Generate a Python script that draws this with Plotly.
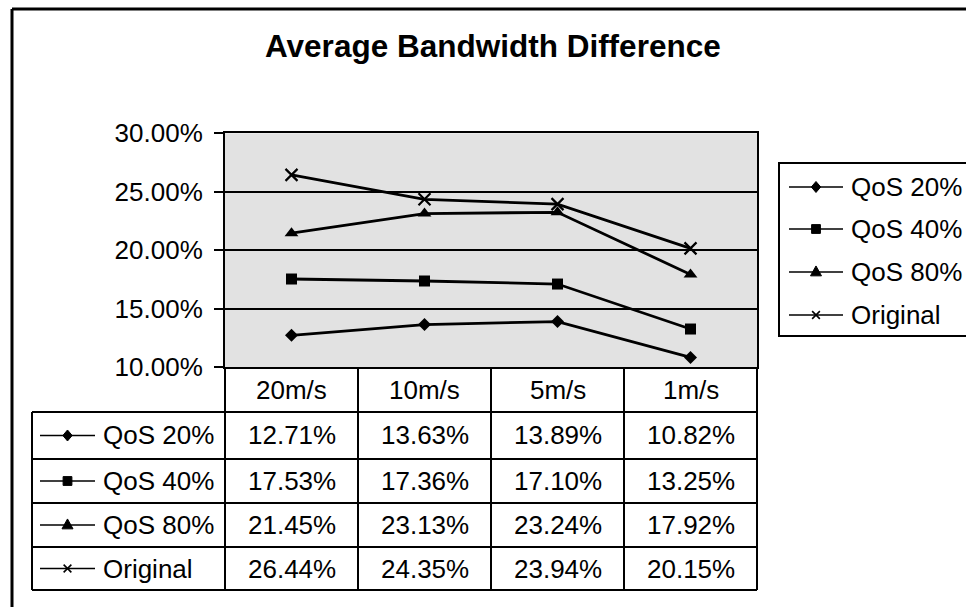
import plotly.graph_objects as go

# ---------------- data ----------------
categories = ["20m/s", "10m/s", "5m/s", "1m/s"]
series_names = ["QoS 20%", "QoS 40%", "QoS 80%", "Original"]
qos20 = [12.71, 13.63, 13.89, 10.82]
qos40 = [17.53, 17.36, 17.10, 13.25]
qos80 = [21.45, 23.13, 23.24, 17.92]
original = [26.44, 24.35, 23.94, 20.15]
y_ticks = [10, 15, 20, 25, 30]

series_values = [qos20, qos40, qos80, original]
symbols = ["diamond", "square", "triangle-up", "x-thin"]
msizes = [10, 11, 12, 12]

W, H = 966, 607
OX, OY = 0, 0          # page offset of the figure (body margin removed)
FONT = "Liberation Sans, Arial, sans-serif"
TXT = 26

# plot area in page pixels
PX0, PX1 = 225, 757
PY_TOP, PY_BOT = 133.3, 367

def fx(x):
    return (x - OX) / W

def fy(y):
    return 1 - (y - OY) / H

fig = go.Figure()
for name, vals, sym, ms in zip(series_names, series_values, symbols, msizes):
    fig.add_trace(go.Scatter(
        x=categories, y=vals, mode="lines+markers", name=name,
        line=dict(color="black", width=2.8),
        marker=dict(symbol=sym, size=ms, color="black",
                    line=dict(color="black", width=2.2 if sym == "x-thin" else 0)),
        showlegend=False,
    ))

shapes = []
annotations = []

def hline(x0, x1, y, w=2):
    shapes.append(dict(type="line", xref="paper", yref="paper",
                       x0=fx(x0), x1=fx(x1), y0=fy(y), y1=fy(y),
                       line=dict(color="black", width=w)))

def vline(x, y0, y1, w=2):
    shapes.append(dict(type="line", xref="paper", yref="paper",
                       x0=fx(x), x1=fx(x), y0=fy(y0), y1=fy(y1),
                       line=dict(color="black", width=w)))

def poly(pts):
    d = "M " + " L ".join(f"{fx(a):.5f},{fy(b):.5f}" for a, b in pts) + " Z"
    shapes.append(dict(type="path", xref="paper", yref="paper", path=d,
                       fillcolor="black", line=dict(color="black", width=1)))

def key(sym, x0, x1, cy, s=5):
    hline(x0, x1, cy, 1.6)
    cx = (x0 + x1) / 2
    if sym == "diamond":
        poly([(cx, cy - s), (cx + s * 0.85, cy), (cx, cy + s), (cx - s * 0.85, cy)])
    elif sym == "square":
        poly([(cx - s * 0.8, cy - s * 0.8), (cx + s * 0.8, cy - s * 0.8),
              (cx + s * 0.8, cy + s * 0.8), (cx - s * 0.8, cy + s * 0.8)])
    elif sym == "triangle-up":
        poly([(cx, cy - s * 1.1), (cx + s, cy + s * 0.7), (cx - s, cy + s * 0.7)])
    else:
        for a, b in [(-1, -1), (-1, 1)]:
            shapes.append(dict(type="line", xref="paper", yref="paper",
                               x0=fx(cx + a * s * 0.7), y0=fy(cy + b * s * 0.7),
                               x1=fx(cx - a * s * 0.7), y1=fy(cy - b * s * 0.7),
                               line=dict(color="black", width=1.6)))

def text(t, x, y, anchor="center", size=TXT):
    annotations.append(dict(text=t, x=fx(x), y=fy(y), xref="paper", yref="paper",
                            xanchor=anchor, yanchor="middle", showarrow=False,
                            font=dict(family=FONT, size=size, color="black")))

# outer chart border (left + top visible)
hline(12, 1000, 9, 3)
vline(12, 9, 640, 3)

# ---------------- data table ----------------
ncat = len(categories)
col_w = (PX1 - PX0) / ncat
col_edges = [PX0 + i * col_w for i in range(ncat + 1)]
row_edges = [PY_BOT, 412, 459, 503, 547, 590]
TABLE_LEFT = 32

for e in row_edges[1:]:
    hline(TABLE_LEFT, PX1, e, 2)
for xe in col_edges:
    vline(xe, PY_BOT, row_edges[-1], 2)
vline(TABLE_LEFT, row_edges[1], row_edges[-1], 2)

for i, c in enumerate(categories):
    text(c, col_edges[i] + col_w / 2, (row_edges[0] + row_edges[1]) / 2)

for r, (name, vals, sym) in enumerate(zip(series_names, series_values, symbols)):
    cy = (row_edges[r + 1] + row_edges[r + 2]) / 2
    key(sym, 40, 95, cy, 5.5)
    text(name, 101, cy, anchor="left")
    for i, v in enumerate(vals):
        text(f"{v:.2f}%", col_edges[i] + col_w / 2, cy)

# ---------------- legend (manual) ----------------
LEG_X0, LEG_Y0, LEG_Y1 = 779, 163, 336
shapes.append(dict(type="rect", xref="paper", yref="paper",
                   x0=fx(LEG_X0), x1=fx(1000), y0=fy(LEG_Y0), y1=fy(LEG_Y1),
                   line=dict(color="black", width=2), fillcolor="white"))
leg_rows = [187, 229, 272, 315]
for name, sym, cy in zip(series_names, symbols, leg_rows):
    key(sym, 789, 843, cy, 5.5)
    text(name, 849, cy, anchor="left")

# title
text("Average Bandwidth Difference", 493, 46, size=31.5)
annotations[-1]["font"]["weight"] = "bold"

fig.update_layout(
    width=W, height=H,
    margin=dict(l=0, r=0, t=0, b=0, pad=0, autoexpand=False),
    paper_bgcolor="white",
    plot_bgcolor="#e2e2e2",
    font=dict(family=FONT, size=TXT, color="black"),
    shapes=shapes,
    annotations=annotations,
    hovermode=False,
    xaxis=dict(domain=[fx(PX0), fx(PX1)], type="category",
               categoryarray=categories, range=[-0.5, ncat - 0.5],
               showticklabels=False, ticks="", showgrid=False,
               showline=True, linecolor="black", linewidth=2, mirror=True,
               zeroline=False, fixedrange=True, automargin=False),
    yaxis=dict(domain=[fy(PY_BOT), fy(PY_TOP)], range=[10, 30],
               tickvals=y_ticks, ticktext=[f"{v:.2f}%" for v in y_ticks],
               ticks="outside", ticklen=9, tickwidth=2, tickcolor="black",
               ticklabelstandoff=6,
               tickfont=dict(family=FONT, size=TXT, color="black"),
               showgrid=True, gridcolor="black", gridwidth=2,
               showline=True, linecolor="black", linewidth=2, mirror=True,
               zeroline=False, fixedrange=True, automargin=False),
)

fig.write_html(
    "out.html",
    config={"displayModeBar": False, "staticPlot": True},
    post_script="document.body.style.margin='0';document.body.style.overflow='hidden';",
)
